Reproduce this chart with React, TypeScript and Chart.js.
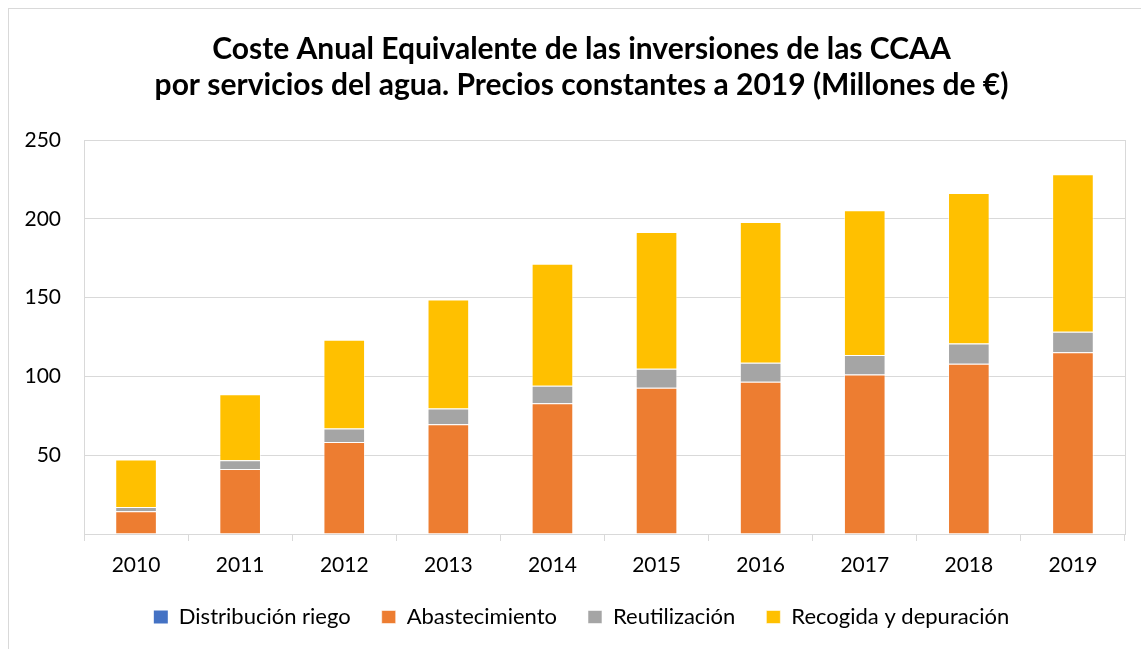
import React, { useEffect, useRef } from 'react';
import { Chart, registerables } from 'chart.js';

Chart.register(...registerables);

const years = ['2010', '2011', '2012', '2013', '2014', '2015', '2016', '2017', '2018', '2019'];
const distribucionRiego = [0, 0, 0, 0, 0, 0, 0, 0, 0, 0];
const abastecimiento = [14.4, 41.3, 58.4, 69.6, 82.9, 92.8, 96.6, 101.2, 108.0, 115.4];
const reutilizacion = [2.8, 5.5, 8.6, 10.1, 11.2, 12.0, 12.0, 12.3, 12.9, 12.9];
const recogidaDepuracion = [30.0, 41.8, 56.2, 69.1, 77.3, 86.8, 89.4, 91.9, 95.4, 99.9];
const yTickValues = [0, 50, 100, 150, 200, 250];
const titleLines = [
  'Coste Anual Equivalente de las inversiones de las CCAA',
  'por servicios del agua. Precios constantes a 2019 (Millones de €)',
];

const GRID = '#d9d9d9';
const FONT = 'Lato';

export default function App() {
  const ref = useRef<HTMLCanvasElement | null>(null);

  useEffect(() => {
    if (!ref.current) return;
    Chart.defaults.font.family = FONT;
    const chart = new Chart(ref.current, {
      type: 'bar',
      data: {
        labels: years,
        datasets: [
          { label: 'Distribución riego', data: distribucionRiego, backgroundColor: '#4472C4', borderWidth: 0 },
          { label: 'Abastecimiento', data: abastecimiento, backgroundColor: '#ED7D31', borderColor: 'rgba(255,255,255,0.55)', borderWidth: 1 },
          { label: 'Reutilización', data: reutilizacion, backgroundColor: '#A5A5A5', borderColor: 'rgba(255,255,255,0.55)', borderWidth: 1 },
          { label: 'Recogida y depuración', data: recogidaDepuracion, backgroundColor: '#FFC000', borderColor: 'rgba(255,255,255,0.55)', borderWidth: 1 },
        ],
      },
      options: {
        responsive: false,
        animation: false,
        datasets: { bar: { barPercentage: 0.4, categoryPercentage: 1.0 } },
        layout: { padding: { left: 0, right: 0, top: 0, bottom: 11 } },
        plugins: {
          title: {
            display: true,
            text: titleLines,
            color: '#000',
            font: { family: FONT, size: 30, weight: 'bold', lineHeight: '36px' },
            padding: { top: 22, bottom: 37 },
          },
          legend: {
            position: 'bottom',
            labels: {
              boxWidth: 14,
              boxHeight: 13,
              padding: 31,
              color: '#000',
              font: { family: FONT, size: 22 },
            },
          },
          tooltip: { enabled: false },
        },
        scales: {
          x: {
            stacked: true,
            grid: { display: true, drawOnChartArea: false, drawTicks: true, tickLength: 7, color: GRID, offset: true },
            border: { display: true, color: GRID },
            ticks: { color: '#000', font: { family: FONT, size: 21 }, padding: 12, maxRotation: 0 },
            afterFit: (s: any) => {
              s.height = 41;
              s._computeLabelArea = () => undefined;
            },
          },
          y: {
            stacked: true,
            min: 0,
            max: 250,
            grid: { color: GRID, drawTicks: false },
            border: { display: true, color: GRID },
            afterBuildTicks: (s: any) => { s.ticks = yTickValues.map((v) => ({ value: v })); },
            ticks: {
              color: '#000',
              font: { family: FONT, size: 21 },
              padding: 23,
              callback: (v: any) => (Number(v) === 0 ? '' : String(v)),
            },
            afterFit: (s: any) => { s.width = 75; },
          },
          y2: {
            type: 'linear',
            position: 'right',
            min: 0,
            max: 250,
            grid: { display: false, drawTicks: false },
            border: { display: true, color: GRID },
            ticks: { display: false },
            afterFit: (s: any) => { s.width = 29; },
          },
        },
      },
    });
    return () => chart.destroy();
  }, []);

  return (
    <div
      style={{
        position: 'fixed',
        left: 8,
        top: 8,
        borderTop: `1px solid ${GRID}`,
        borderLeft: `1px solid ${GRID}`,
        background: '#fff',
      }}
    >
      <canvas ref={ref} width={1145} height={640} style={{ display: 'block', width: 1145, height: 640 }} />
    </div>
  );
}
